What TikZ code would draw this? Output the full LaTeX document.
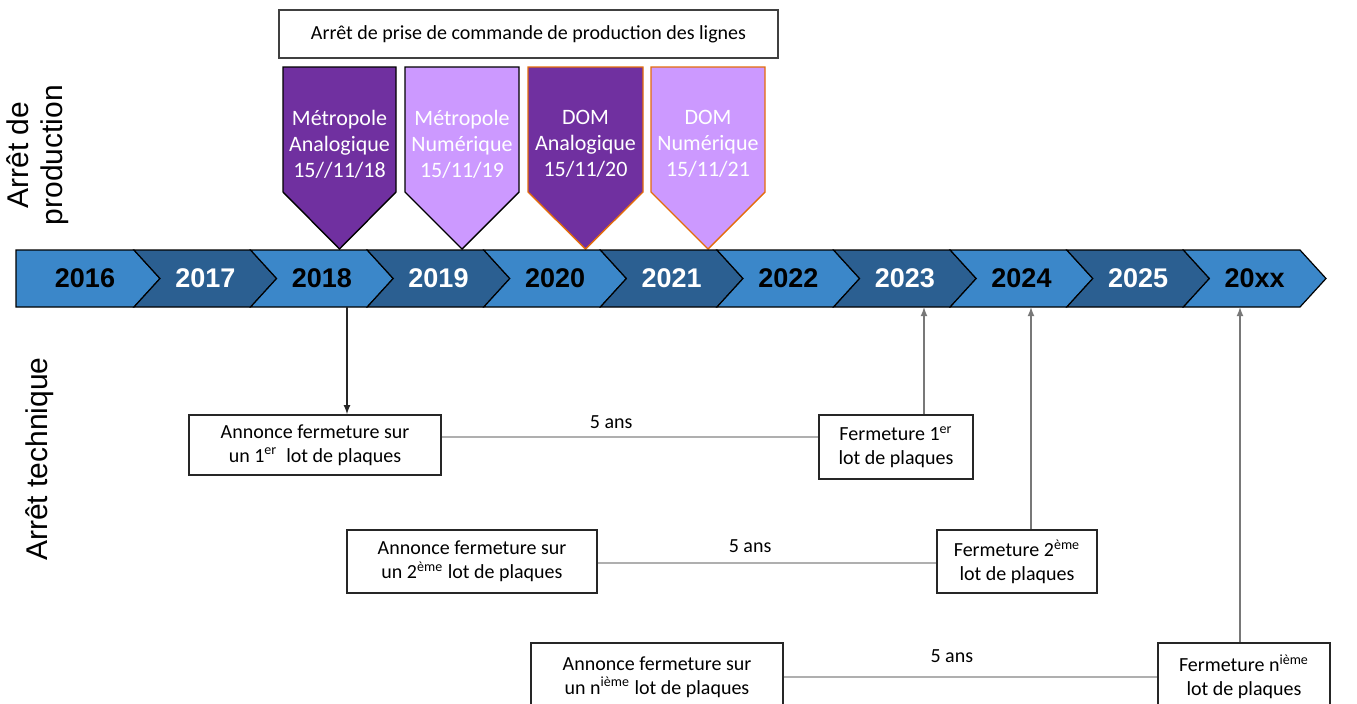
\documentclass[tikz,border=0pt]{standalone}
\usepackage{fontspec}
\setmainfont{Carlito}
\newfontfamily\arialf{Liberation Sans}
\usepackage{tikz}
\usetikzlibrary{arrows,positioning,calc}

\definecolor{barlight}{RGB}{59,135,201}
\definecolor{bardark}{RGB}{43,95,145}
\definecolor{purpdark}{RGB}{112,48,160}
\definecolor{purplight}{RGB}{204,153,255}
\definecolor{orangeedge}{RGB}{228,108,10}
\definecolor{linegray}{RGB}{175,175,175}
\definecolor{arrgray}{RGB}{120,120,120}

\begin{document}
\begin{tikzpicture}[
        x=0.5pt, y=-0.5pt,
        seg/.style={draw=black, line width=0.6pt, line join=miter},
        year/.style={font=\arialf\bfseries\fontsize{13.5}{16}\selectfont, inner sep=0pt},
        side/.style={font=\arialf\fontsize{15}{17}\selectfont, align=center, inner sep=0pt},
        box/.style={rectangle, draw=black!85, line width=0.8pt, align=center, font=\fontsize{10}{12}\selectfont, inner sep=0pt},
        pent/.style={line width=0.7pt, line join=miter},
        ptext/.style={align=center, font=\fontsize{11}{13}\selectfont, inner sep=0pt},
        arr/.style={-latex, line width=0.6pt},
        gap/.style={draw=linegray, line width=0.6pt}
    ]
        \useasboundingbox (0,0) rectangle (1357,703);
        \clip (0,0) rectangle (1357,703);

        % Header
        \node[box, draw=black!75, minimum width=249.5pt, minimum height=24pt] (head) at (528.5,34) {Arrêt de prise de commande de production des lignes};

        % Stop dates
        \filldraw[pent, fill=purpdark, draw=black] (283,67) -- (396,67) -- (396,192) -- (339.5,249) -- (283,192) -- cycle;
        \filldraw[pent, fill=purplight, draw=black] (405,67) -- (519,67) -- (519,192) -- (462,249) -- (405,192) -- cycle;
        \filldraw[pent, fill=purpdark, draw=orangeedge] (528,67) -- (643,67) -- (643,192) -- (585.5,249) -- (528,192) -- cycle;
        \filldraw[pent, fill=purplight, draw=orangeedge] (651,67) -- (765,67) -- (765,192) -- (708,249) -- (651,192) -- cycle;
        \node[ptext, text=white] (pMA) at (339.5,144) {Métropole\\Analogique\\15//11/18};
        \node[ptext, text=white] (pMN) at (462,144) {Métropole\\Numérique\\15/11/19};
        \node[ptext, text=white] (pDA) at (585.5,144) {DOM\\Analogique\\15/11/20};
        \node[ptext, text=white] (pDN) at (708,144) {DOM\\Numérique\\15/11/21};

        % Timeline
        \foreach \yr [count=\i from 0] in {2016,2017,2018,2019,2020,2021,2022,2023,2024,2025,20xx}{
            \pgfmathsetmacro{\xa}{17.4+116.6*\i}
            \pgfmathsetmacro{\xb}{\xa+116.6}
            \ifodd\i \def\segfill{bardark}\def\segtext{white}\else \def\segfill{barlight}\def\segtext{black}\fi
            \ifnum\i=0
                \filldraw[seg, fill=\segfill] (16,250) -- (\xb,250) -- (\xb+26,278.5) -- (\xb,307) -- (16,307) -- cycle;
                \node[year, text=\segtext] (y\yr) at (85,278.5) {\yr};
            \else
                \filldraw[seg, fill=\segfill] (\xa,250) -- (\xb,250) -- (\xb+26,278.5) -- (\xb,307) -- (\xa,307) -- (\xa+26,278.5) -- cycle;
                \node[year, text=\segtext] (y\yr) at (\xa+71.3,278.5) {\yr};
            \fi
        }
        \coordinate (t18) at (347,307);
        \coordinate (t23) at (924,307);
        \coordinate (t24) at (1031,307);
        \coordinate (txx) at (1240,307);

        % Side labels
        \node[side, rotate=90] (lprod) at (38,155) {Arrêt de\\production};
        \node[side, rotate=90] (ltech) at (40,459) {Arrêt technique};

        % Closing boxes
        \node[box, minimum width=126pt, minimum height=30pt] (ann1) at (315,445) {Annonce fermeture sur\\un 1\textsuperscript{er}\ \ lot de plaques};
        \node[box, minimum width=77pt, minimum height=32pt] (fer1) at (896,447) {Fermeture 1\textsuperscript{er}\\lot de plaques};
        \node[box, minimum width=125pt, minimum height=31.5pt] (ann2) at (472,561.5) {Annonce fermeture sur\\un 2\textsuperscript{ème} lot de plaques};
        \node[box, minimum width=80pt, minimum height=31.5pt] (fer2) at (1017,561.5) {Fermeture 2\textsuperscript{ème}\\lot de plaques};
        \node[box, minimum width=126pt, minimum height=34pt] (ann3) at (657,677) {Annonce fermeture sur\\un n\textsuperscript{ième} lot de plaques};
        \node[box, minimum width=86pt, minimum height=34pt] (fer3) at (1244,677) {Fermeture n\textsuperscript{ième}\\lot de plaques};

        % 5 year gaps
        \draw[gap] (ann1.east |- 0,437) -- node[pos=0.45, above=4pt, font=\fontsize{10}{12}\selectfont, inner sep=0pt] (g1) {5 ans} (fer1.west |- 0,437);
        \draw[gap] (ann2.east |- 0,563) -- node[pos=0.45, above=5pt, font=\fontsize{10}{12}\selectfont, inner sep=0pt] (g2) {5 ans} (fer2.west |- 0,563);
        \draw[gap] (ann3.east |- 0,677) -- node[pos=0.45, above=7pt, font=\fontsize{10}{12}\selectfont, inner sep=0pt] (g3) {5 ans} (fer3.west |- 0,677);

        % Arrows
        \draw[arr, black!85] (t18) -- (t18 |- ann1.north);
        \draw[arr, arrgray] (fer1.north -| t23) -- (t23);
        \draw[arr, arrgray] (fer2.north -| t24) -- (t24);
        \draw[arr, arrgray] (fer3.north -| txx) -- (txx);
    \end{tikzpicture}
\end{document}
